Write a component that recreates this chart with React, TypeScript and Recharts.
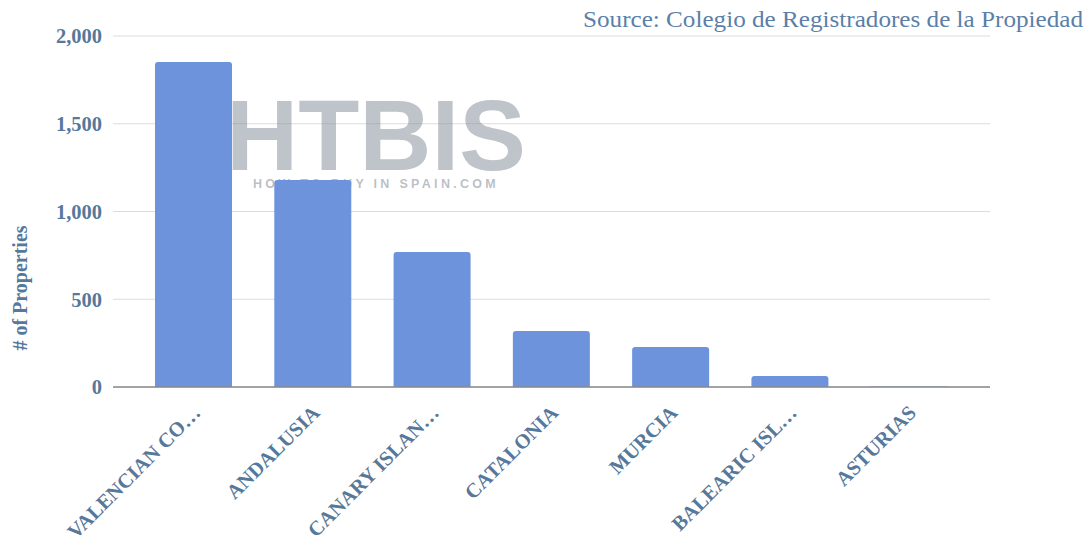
import React from 'react';
import { BarChart, Bar, XAxis, YAxis, CartesianGrid, Customized } from 'recharts';

const regions = ['VALENCIAN CO…', 'ANDALUSIA', 'CANARY ISLAN…', 'CATALONIA', 'MURCIA', 'BALEARIC ISL…', 'ASTURIAS'];
const properties = [1852, 1180, 769, 319, 228, 63, 3];
const yTicks = [0, 500, 1000, 1500, 2000];

const data = regions.map((r, i) => ({ region: r, value: properties[i] }));

const TEXT = '#56789a';
const FONT = '"Liberation Serif", "Times New Roman", serif';

const XTick = (props: any) => {
  const { x, y, payload } = props;
  return (
    <g transform={`translate(${x + 8},${y + 19})`}>
      <text transform="rotate(-45)" textAnchor="end" fill={TEXT} fontFamily={FONT} fontSize={20.5} fontWeight="bold">
        {payload.value}
      </text>
    </g>
  );
};

const Overlay = () => (
  <g style={{ pointerEvents: 'none' }}>
    <text transform="translate(27,288) rotate(-90)" textAnchor="middle" fontFamily={FONT} fontSize={20} fontWeight="bold" fill={TEXT}>
      # of Properties
    </text>
    <text x={226} y={170} fontFamily='"Liberation Sans", Arial, sans-serif' fontWeight="bold" fontSize={100} fill="#7f8a96" fillOpacity={0.5}>
      HTBIS
    </text>
    <text x={253} y={188} fontFamily='"Liberation Sans", Arial, sans-serif' fontWeight="bold" fontSize={12.5} letterSpacing={3.3} fill="#7f8a96" fillOpacity={0.55}>
      HOW TO BUY IN SPAIN.COM
    </text>
    <text x={583} y={27} textLength={500} lengthAdjust="spacingAndGlyphs" fontFamily={FONT} fontSize={23} fill="#5b7fa8">
      Source: Colegio de Registradores de la Propiedad
    </text>
  </g>
);

export default function App() {
  return (
    <div style={{ position: 'absolute', left: 0, top: 0, width: 1089, height: 539, background: '#fff' }}>
      <BarChart width={1089} height={539} data={data} margin={{ top: 36, right: 99, bottom: 0, left: 0 }} barCategoryGap={21}>
        <CartesianGrid vertical={false} stroke="#dcdcdc" />
        <XAxis
          dataKey="region"
          height={152}
          interval={0}
          tick={<XTick />}
          tickLine={false}
          axisLine={{ stroke: '#8a8a8a', strokeWidth: 1.5 }}
          padding={{ left: 21, right: 21 }}
        />
        <YAxis
          width={113}
          domain={[0, 2000]}
          ticks={yTicks}
          tickFormatter={(v: number) => v.toLocaleString('en-US')}
          tickLine={false}
          axisLine={false}
          tickMargin={5}
          tick={{ fill: TEXT, fontFamily: FONT, fontSize: 20.5, fontWeight: 'bold' }}
        />
        <Bar dataKey="value" fill="#6d93dc" radius={[3, 3, 0, 0]} isAnimationActive={false} />
        <Customized component={Overlay} />
      </BarChart>
    </div>
  );
}
